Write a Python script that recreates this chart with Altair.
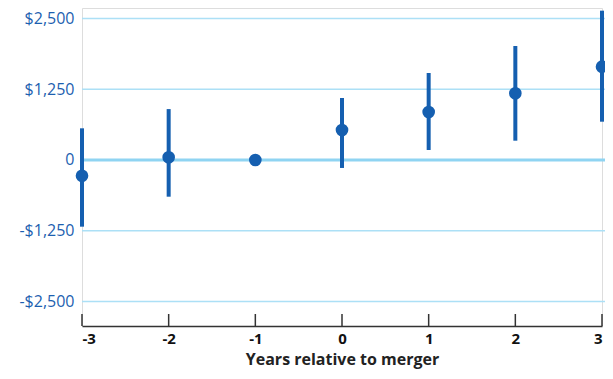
import altair as alt
import pandas as pd

years = [-3, -2, -1, 0, 1, 2, 3]
estimate = [-278, 48, 0, 530, 849, 1179, 1650]
lower = [-1179, -649, 0, -141, 177, 341, 677]
upper = [560, 900, 0, 1096, 1538, 2015, 2640]
y_ticks = [-2500, -1250, 0, 1250, 2500]

df = pd.DataFrame({"year": years, "est": estimate, "lo": lower, "hi": upper})
err_df = df[df["lo"] != df["hi"]]
grid_df = pd.DataFrame({"v": y_ticks})

W, H = 520, 318
XDOM = [-3, 3]
YDOM = [-2935, 2687]
BLUE = "#155fb0"
FONT = "Open Sans"

xs = alt.Scale(domain=XDOM, nice=False, zero=False)
ys = alt.Scale(domain=YDOM, nice=False, zero=False)

label_expr = "datum.value == 0 ? '0' : (datum.value < 0 ? '-$' : '$') + format(abs(datum.value), ',')"

base_y_axis = alt.Axis(values=y_ticks, labelExpr=label_expr, grid=False, domain=False, ticks=False,
                       labelColor="#1d5fb0", labelFont=FONT, labelFontSize=16, labelPadding=8, title=None)

grid = alt.Chart(grid_df).transform_filter("datum.v != 0").mark_rule(color="#ace0f6", strokeWidth=1.5).encode(
    y=alt.Y("v:Q", scale=ys, axis=base_y_axis),
    x=alt.value(0), x2=alt.value(W + 10),
)
zero = alt.Chart(grid_df).transform_filter("datum.v == 0").mark_rule(color="#8fd4f2", strokeWidth=3).encode(
    y=alt.Y("v:Q", scale=ys),
    x=alt.value(0), x2=alt.value(W + 10),
)

xaxis = alt.Axis(values=years, labelExpr="datum.value < 0 ? '-' + abs(datum.value) : '' + datum.value",
                 grid=False, ticks=False, domain=True, domainColor="#333333", labelFlush=True,
                 domainWidth=1.5, labelColor="#111111", labelFont=FONT, labelFontSize=15, labelFontWeight="bold",
                 labelPadding=5, title="Years relative to merger", titleFont=FONT, titleFontSize=16,
                 titleFontWeight="bold", titleColor="#222222", titlePadding=5)

ticks = alt.Chart(df).mark_rule(color="#333333", strokeWidth=1.5).encode(
    x=alt.X("year:Q", scale=xs, axis=xaxis),
    y=alt.value(H - 12), y2=alt.value(H),
)

err = alt.Chart(err_df).mark_rule(color=BLUE, strokeWidth=4).encode(
    x=alt.X("year:Q", scale=xs),
    y=alt.Y("lo:Q", scale=ys),
    y2="hi:Q",
)
pts = alt.Chart(df).mark_circle(color=BLUE, size=160, opacity=1).encode(
    x=alt.X("year:Q", scale=xs),
    y=alt.Y("est:Q", scale=ys),
)

chart = alt.layer(grid, zero, ticks, err, pts).properties(
    width=W, height=H,
    autosize=alt.AutoSizeParams(type="none"),
    padding={"left": 74, "top": 0, "right": 3, "bottom": 45},
).configure_view(stroke=None, clip=False).configure(background="white")

chart.save("out.html", embed_options={"renderer": "svg", "actions": False})
